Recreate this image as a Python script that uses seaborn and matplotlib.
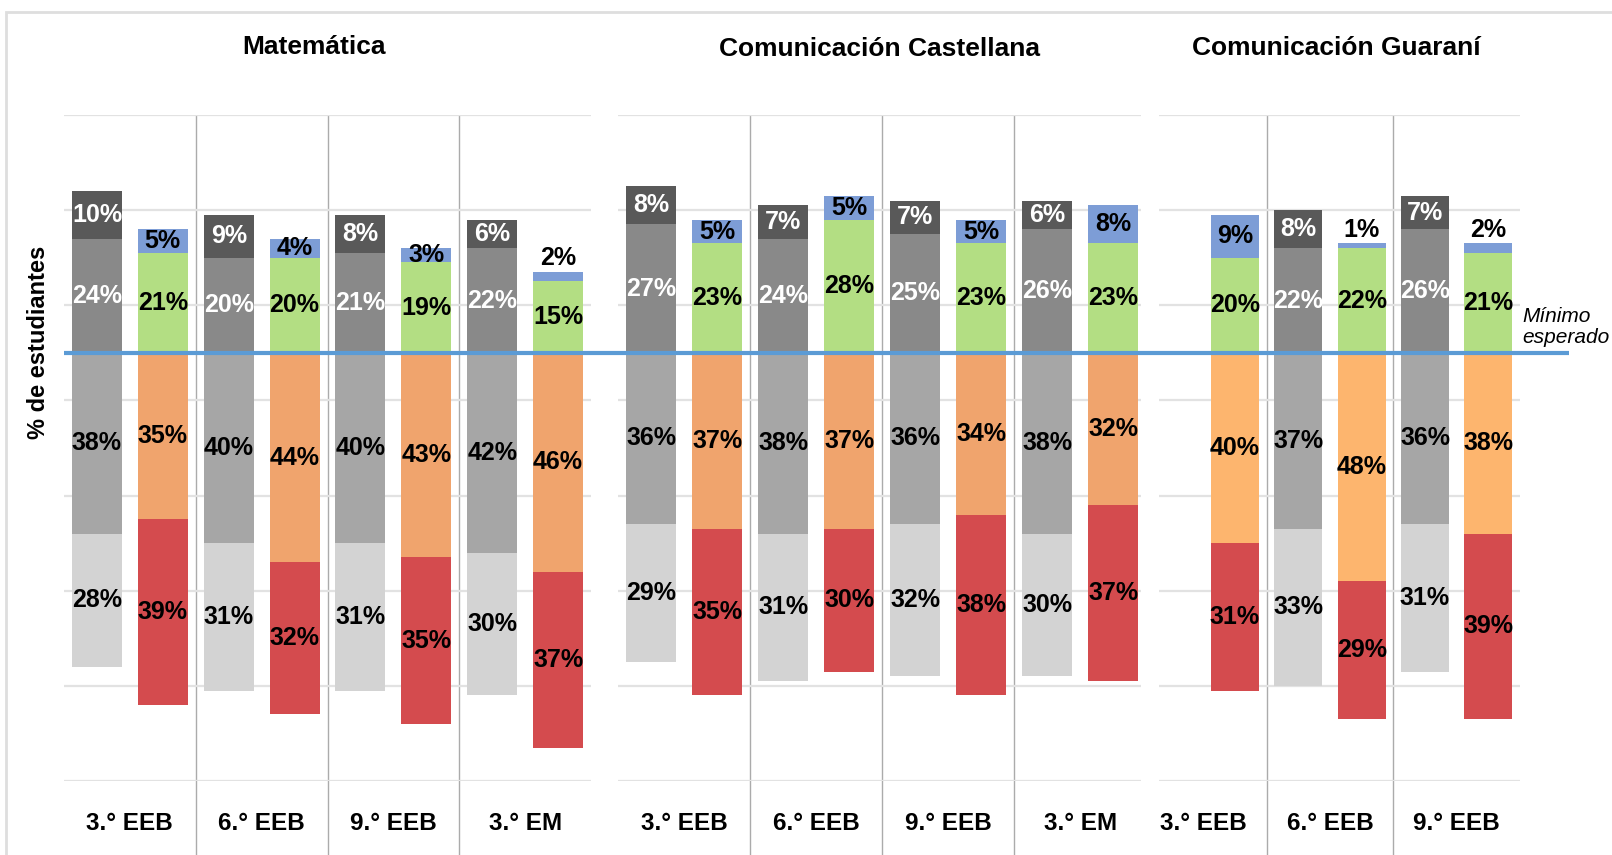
import matplotlib
matplotlib.use("Agg")
import matplotlib.pyplot as plt
from matplotlib.patches import Rectangle
import numpy as np
import pandas as pd
import seaborn as sns

# Grados evaluados por área
grados_mat = ["3.° EEB", "6.° EEB", "9.° EEB", "3.° EM"]
grados_cast = ["3.° EEB", "6.° EEB", "9.° EEB", "3.° EM"]
grados_guar = ["3.° EEB", "6.° EEB", "9.° EEB"]

# Niveles 4 y 3 (sobre el mínimo esperado), 2 y 1 (debajo)
# "ant" = barra gris (evaluación anterior), "act" = barra en color
mat_ant_n4 = [10, 9, 8, 6]
mat_ant_n3 = [24, 20, 21, 22]
mat_ant_n2 = [38, 40, 40, 42]
mat_ant_n1 = [28, 31, 31, 30]
mat_act_n4 = [5, 4, 3, 2]
mat_act_n3 = [21, 20, 19, 15]
mat_act_n2 = [35, 44, 43, 46]
mat_act_n1 = [39, 32, 35, 37]

cast_ant_n4 = [8, 7, 7, 6]
cast_ant_n3 = [27, 24, 25, 26]
cast_ant_n2 = [36, 38, 36, 38]
cast_ant_n1 = [29, 31, 32, 30]
cast_act_n4 = [5, 5, 5, 8]
cast_act_n3 = [23, 28, 23, 23]
cast_act_n2 = [37, 37, 34, 32]
cast_act_n1 = [35, 30, 38, 37]

# Guaraní 3.° EEB no tiene barra gris
guar_ant_n4 = [np.nan, 8, 7]
guar_ant_n3 = [np.nan, 22, 26]
guar_ant_n2 = [np.nan, 37, 36]
guar_ant_n1 = [np.nan, 33, 31]
guar_act_n4 = [9, 1, 2]
guar_act_n3 = [20, 22, 21]
guar_act_n2 = [40, 48, 38]
guar_act_n1 = [31, 29, 39]

gris = {"n4": "#595959", "n3": "#898989", "n2": "#a6a6a6", "n1": "#d3d3d3"}
color = {"n4": "#7d9dd6", "n3": "#b3de83", "n2": "#f0a46d", "n1": "#d44b4e"}
naranja_guar = "#fdb56e"

sns.set_theme(style="white")
plt.rcParams["font.family"] = ["Liberation Sans", "DejaVu Sans"]

W, H = 1612, 855
fig = plt.figure(figsize=(W / 100, H / 100), dpi=100)

y_top, y_bot = 115, 781
ymin, ymax = -90, 50


def make_ax(x0, x1):
    return fig.add_axes([x0 / W, 1 - y_bot / H, (x1 - x0) / W, (y_bot - y_top) / H])


def panel(ax, grados, ant, act, naranja, titulo, xlim, tx, ty):
    df = pd.DataFrame({
        "grado": grados * 2,
        "serie": ["ant"] * len(grados) + ["act"] * len(grados),
        "n4": list(ant[0]) + list(act[0]),
        "n3": list(ant[1]) + list(act[1]),
        "n2": list(ant[2]) + list(act[2]),
        "n1": list(ant[3]) + list(act[3]),
    })
    df["arriba"] = df["n3"] + df["n4"]
    df["abajo"] = -(df["n2"] + df["n1"])
    df["n2neg"] = -df["n2"]
    df = df.dropna()
    cols = dict(color)
    cols["n2"] = naranja
    capas = [("arriba", "n4"), ("n3", "n3"), ("abajo", "n1"), ("n2neg", "n2")]
    for ycol, nivel in capas:
        sns.barplot(data=df, x="grado", y=ycol, hue="serie", order=grados,
                    hue_order=["ant", "act"],
                    palette={"ant": gris[nivel], "act": cols[nivel]},
                    width=1.0, gap=0.24, saturation=1, errorbar=None,
                    legend=False, linewidth=0, ax=ax)

    # etiquetas de valores
    for serie, dx in [("ant", -0.25), ("act", 0.25)]:
        vals = ant if serie == "ant" else act
        for i in range(len(grados)):
            n4, n3, n2, n1 = vals[0][i], vals[1][i], vals[2][i], vals[3][i]
            if np.isnan(n4):
                continue
            blanco = "white" if serie == "ant" else "black"
            kw = dict(ha="center", fontsize=18, fontweight="bold")
            ax.text(i + dx, n3 / 2, f"{n3:.0f}%", va="center", color=blanco, **kw)
            if n4 <= 2:
                ax.text(i + dx, n3 + n4 + 0.4, f"{n4:.0f}%", va="bottom", color="black", **kw)
            else:
                ax.text(i + dx, n3 + n4 / 2, f"{n4:.0f}%", va="center", color=blanco, **kw)
            ax.text(i + dx, -n2 / 2, f"{n2:.0f}%", va="center", color="black", **kw)
            ax.text(i + dx, -n2 - n1 / 2, f"{n1:.0f}%", va="center", color="black", **kw)

    ax.set_xlim(*xlim)
    ax.set_ylim(ymin, ymax)
    ax.set_yticks(range(-90, 51, 20))
    ax.yaxis.grid(True, color="#e2e2e2", lw=1.6)
    ax.set_axisbelow(True)
    ax.tick_params(axis="y", length=0, labelleft=False)
    ax.set_xticks(range(len(grados)))
    ax.set_xticklabels(grados, fontsize=17.5, fontweight="bold", color="black")
    ax.tick_params(axis="x", length=0, pad=22)
    ax.set_xlabel("")
    ax.set_ylabel("")
    for s in ax.spines.values():
        s.set_visible(False)
    ax.vlines([i + 0.5 for i in range(len(grados) - 1)], -106, ymax,
              color="#ababab", lw=1, clip_on=False, zorder=0.5)
    ax.text(tx, ty, titulo, transform=ax.transAxes, ha="center", va="baseline",
            fontsize=19, fontweight="bold", color="black")


ax1 = make_ax(64, 591)
ax2 = make_ax(618, 1141)
ax3 = make_ax(1159, 1520)

panel(ax1, grados_mat,
      (mat_ant_n4, mat_ant_n3, mat_ant_n2, mat_ant_n1),
      (mat_act_n4, mat_act_n3, mat_act_n2, mat_act_n1),
      color["n2"], "Matemática", (-0.5, 3.5), 0.475, 1.091)
panel(ax2, grados_cast,
      (cast_ant_n4, cast_ant_n3, cast_ant_n2, cast_ant_n1),
      (cast_act_n4, cast_act_n3, cast_act_n2, cast_act_n1),
      color["n2"], "Comunicación Castellana", (-0.5, 3.46), 0.5, 1.088)
panel(ax3, grados_guar,
      (guar_ant_n4, guar_ant_n3, guar_ant_n2, guar_ant_n1),
      (guar_act_n4, guar_act_n3, guar_act_n2, guar_act_n1),
      naranja_guar, "Comunicación Guaraní", (-0.35, 2.5), 0.49, 1.09)

# línea del mínimo esperado, cruza los tres paneles
axl = make_ax(64, 1569)
axl.set_ylim(ymin, ymax)
axl.axhline(0, color="#5b9bd5", lw=3)
axl.axis("off")

fig.text(39 / W, 1 - 342 / H, "% de estudiantes", rotation=90, ha="center",
         va="center", fontsize=17, fontweight="bold", color="black")
fig.text(1522 / W, 1 - 327 / H, "Mínimo\nesperado", ha="left", va="center",
         fontsize=15, style="italic", linespacing=1.15, color="black")

fig.patches.append(Rectangle((6 / W, -0.02), 1.1, 1.02 - 12 / H, transform=fig.transFigure,
                             fill=False, edgecolor="#dedede", lw=2))

fig.savefig("out.png", dpi=100)
